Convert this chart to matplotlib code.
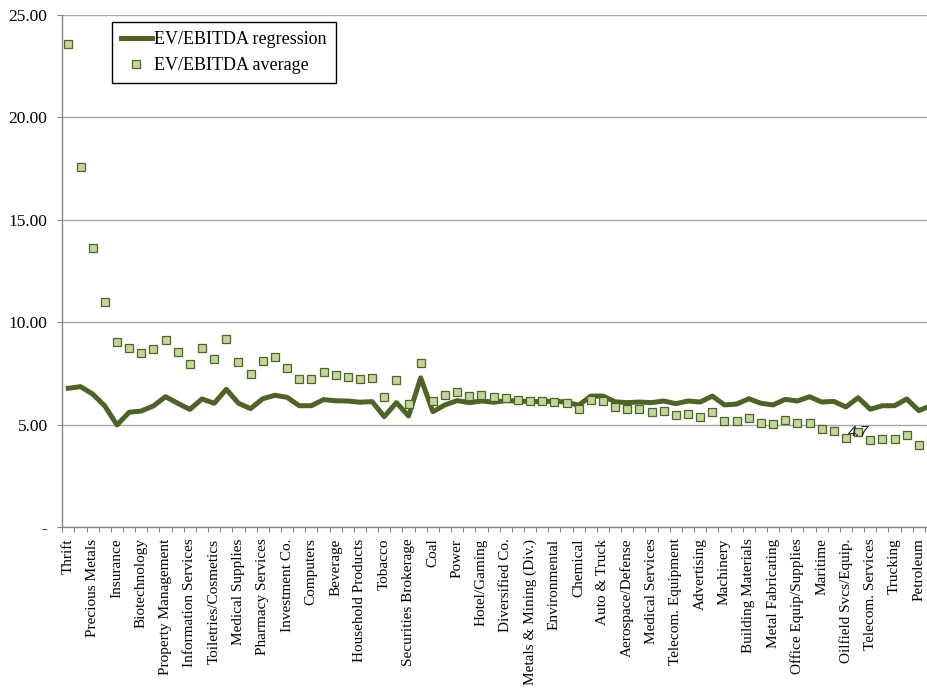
import numpy as np
from matplotlib import pyplot as plt
from matplotlib.ticker import FixedLocator, FuncFormatter

plt.rcParams['font.family'] = ['Liberation Serif', 'DejaVu Serif']

# Industry names (only every second one is labelled on the axis)
labels = ['Thrift', 'Precious Metals', 'Insurance', 'Biotechnology',
          'Property Management', 'Information Services', 'Toiletries/Cosmetics',
          'Medical Supplies', 'Pharmacy Services', 'Investment Co.', 'Computers',
          'Beverage', 'Household Products', 'Tobacco', 'Securities Brokerage',
          'Coal', 'Power', 'Hotel/Gaming', 'Diversified Co.',
          'Metals & Mining (Div.)', 'Environmental', 'Chemical', 'Auto & Truck',
          'Aerospace/Defense', 'Medical Services', 'Telecom. Equipment',
          'Advertising', 'Machinery', 'Building Materials', 'Metal Fabricating',
          'Office Equip/Supplies', 'Maritime', 'Oilfield Svcs/Equip.',
          'Telecom. Services', 'Trucking', 'Petroleum']

ev_avg = [23.57, 17.59, 13.65, 11.02, 9.06, 8.74, 8.50, 8.71, 9.13, 8.56,
          7.99, 8.74, 8.20, 9.21, 8.07, 7.47, 8.12, 8.32, 7.80, 7.24,
          7.26, 7.60, 7.46, 7.36, 7.26, 7.28, 6.38, 7.20, 6.02, 8.01,
          6.17, 6.45, 6.61, 6.41, 6.46, 6.38, 6.33, 6.22, 6.17, 6.17,
          6.12, 6.06, 5.80, 6.20, 6.16, 5.86, 5.77, 5.78, 5.62, 5.67,
          5.47, 5.52, 5.41, 5.65, 5.18, 5.20, 5.36, 5.11, 5.05, 5.23,
          5.10, 5.08, 4.82, 4.71, 4.38, 4.66, 4.25, 4.32, 4.30, 4.51,
          4.02, 4.16]

ev_reg = [6.79, 6.87, 6.51, 5.93, 5.00, 5.62, 5.68, 5.93, 6.38, 6.06,
          5.76, 6.27, 6.06, 6.74, 6.06, 5.80, 6.28, 6.45, 6.35, 5.94,
          5.94, 6.24, 6.18, 6.17, 6.11, 6.14, 5.41, 6.09, 5.44, 7.30,
          5.65, 5.98, 6.19, 6.09, 6.17, 6.11, 6.19, 6.17, 6.14, 6.14,
          6.16, 6.12, 5.96, 6.41, 6.41, 6.13, 6.09, 6.12, 6.09, 6.17,
          6.04, 6.17, 6.12, 6.41, 5.98, 6.02, 6.28, 6.06, 5.98, 6.25,
          6.17, 6.38, 6.12, 6.15, 5.88, 6.33, 5.77, 5.94, 5.94, 6.27,
          5.70, 5.95]

label_idx = 65  # point carrying the data label
label_text = '4.7'

x = np.arange(len(ev_avg))
dark = '#4f6228'
light = '#c3d69b'

fig = plt.figure(figsize=(9.27, 6.88), dpi=100)
ax = fig.add_axes([0.0672, 0.2333, 0.9328, 0.7449])

ax.plot(x, ev_reg, color=dark, lw=3.6, label='EV/EBITDA regression', zorder=3)
ax.plot(x, ev_avg, ls='none', marker='s', ms=6.3, mfc=light, mec=dark, mew=0.9,
        label='EV/EBITDA average', zorder=4)
ax.text(label_idx, ev_avg[label_idx], label_text, ha='center', va='center',
        fontsize=11, style='italic', family='Liberation Sans', color='#222222',
        zorder=5)

ax.set_xlim(-0.5, 70.67)
ax.set_ylim(0, 25)

# y axis
ax.set_yticks(np.arange(0, 26, 5))
ax.yaxis.set_major_formatter(FuncFormatter(lambda v, p: '-' if v == 0 else '%.2f' % v))
ax.grid(axis='y', color='#a6a6a6', lw=1.0)
ax.set_axisbelow(True)
ax.tick_params(axis='y', length=3.6, width=0.8, color='#868686', pad=7, labelsize=12.5)

# x axis: labels on every second category, ticks between categories
ax.set_xticks(x[::2])
ax.set_xticklabels(labels, rotation=90, fontsize=11)
ax.tick_params(axis='x', which='major', length=0, pad=8)
ax.xaxis.set_minor_locator(FixedLocator(np.arange(-0.5, 72, 1)))
ax.tick_params(axis='x', which='minor', length=3.6, width=0.8, color='#868686')

for s in ['top', 'right']:
    ax.spines[s].set_visible(False)
for s in ['left', 'bottom']:
    ax.spines[s].set_color('#868686')
    ax.spines[s].set_linewidth(1.0)

leg = ax.legend(loc='upper left', bbox_to_anchor=(0.0575, 0.9863), borderaxespad=0,
                fontsize=13, fancybox=False, framealpha=1, edgecolor='black',
                handlelength=1.7, handletextpad=0.15, borderpad=0.5,
                labelspacing=0.5)
leg.get_frame().set_linewidth(1.0)

fig.savefig('out.png', dpi=100)
